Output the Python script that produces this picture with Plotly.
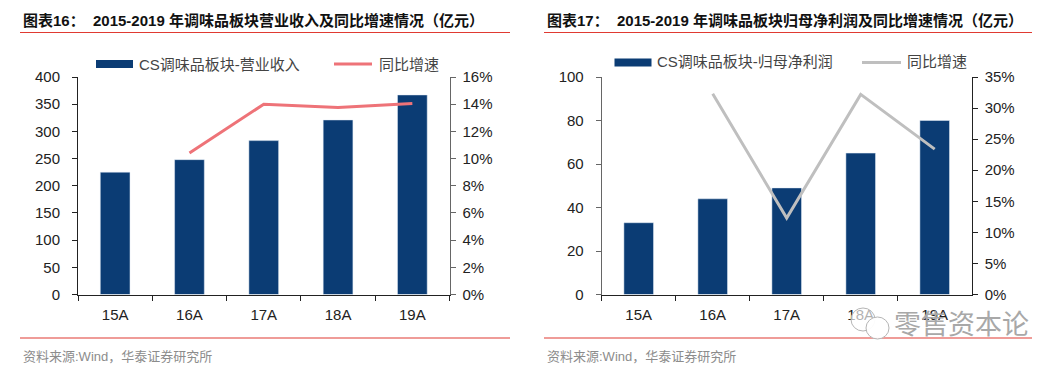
import plotly.graph_objects as go

W, H = 1062, 372
categories = ["15A", "16A", "17A", "18A", "19A"]
revenue = [225, 248, 283, 321, 367]
revenue_growth = [None, 10.4, 14.0, 13.75, 14.05]
profit = [33, 44, 49, 65, 80]
profit_growth = [None, 32.3, 12.3, 32.2, 23.4]
left_ticks = [0, 50, 100, 150, 200, 250, 300, 350, 400]
left_pct_ticks = [0, 2, 4, 6, 8, 10, 12, 14, 16]
right_ticks = [0, 20, 40, 60, 80, 100]
right_pct_ticks = [0, 5, 10, 15, 20, 25, 30, 35]

NAVY = "#0b3c74"
CORAL = "#ee7378"
GREY = "#bfbfbf"
RED = "#e03a32"
FONT = "Liberation Sans, Noto Sans CJK SC, sans-serif"
TXT = "#222222"
DARK = "#222222"
MID = "#666666"


def px(x):
    return x / W


def py(y):
    return 1 - y / H


fig = go.Figure()
fig.add_bar(x=categories, y=revenue, marker_color=NAVY, width=0.4, xaxis="x", yaxis="y", showlegend=False)
fig.add_scatter(x=categories, y=revenue_growth, mode="lines", line=dict(color=CORAL, width=3), xaxis="x", yaxis="y2", showlegend=False)
fig.add_bar(x=categories, y=profit, marker_color=NAVY, width=0.4, xaxis="x2", yaxis="y3", showlegend=False)
fig.add_scatter(x=categories, y=profit_growth, mode="lines", line=dict(color=GREY, width=3), xaxis="x2", yaxis="y4", showlegend=False)


def xax(x0, x1, anchor):
    return dict(domain=[px(x0), px(x1)], anchor=anchor, tickson="boundaries", ticks="outside", ticklen=5,
                tickcolor=DARK, showline=True, linecolor=DARK, linewidth=1, showgrid=False, automargin=False,
                tickfont=dict(family=FONT, size=15, color=TXT), ticklabelstandoff=6, zeroline=False)


def yax(vals, rng, fmt="", side="left", color=DARK, standoff=9, **kw):
    return dict(domain=[py(294.5), py(77)], range=rng, tickvals=vals, ticktext=[f"{v}{fmt}" for v in vals],
                side=side, ticks="outside", ticklen=5, tickcolor=color, showline=True, linecolor=color, linewidth=1,
                showgrid=False, zeroline=False, automargin=False, ticklabelstandoff=standoff,
                tickfont=dict(family=FONT, size=15, color=TXT), **kw)


fig.update_layout(
    width=W, height=H, autosize=False, margin=dict(l=0, r=0, t=0, b=0, pad=0, autoexpand=False),
    plot_bgcolor="white", paper_bgcolor="white",
    xaxis=xax(78, 449.5, "y"),
    yaxis=yax(left_ticks, [0, 400]),
    yaxis2=yax(left_pct_ticks, [0, 16], "%", "right", MID, 4, overlaying="y", anchor="x"),
    xaxis2=xax(601.7, 971.7, "y3"),
    yaxis3=yax(right_ticks, [0, 100], "", "left", MID, 9, anchor="x2"),
    yaxis4=yax(right_pct_ticks, [0, 35], "%", "right", DARK, 4, overlaying="y3", anchor="x2"),
    showlegend=False,
    bargap=0.6,
)

shapes = []


def hline(x0, x1, y, color=RED, width=1.2):
    shapes.append(dict(type="line", xref="paper", yref="paper", x0=px(x0), x1=px(x1), y0=py(y), y1=py(y),
                       line=dict(color=color, width=width)))


def swatch(x0, x1, y, color):
    shapes.append(dict(type="rect", xref="paper", yref="paper", x0=px(x0), x1=px(x1), y0=py(y - 4), y1=py(y + 4),
                       fillcolor=color, line_width=0))


def bubble(x0, x1, y0, y1, fill):
    shapes.append(dict(type="circle", xref="paper", yref="paper", x0=px(x0), x1=px(x1), y0=py(y1), y1=py(y0),
                       fillcolor=fill, line=dict(color="#b5b5b5", width=1)))


for a, b in ((20, 510), (544, 1032)):
    hline(a, b, 32.5)
    hline(a, b, 338)
swatch(96, 133, 64, NAVY)
hline(334, 372, 64, CORAL, 3)
swatch(614.5, 651.5, 62.5, NAVY)
hline(862, 901, 62.5, GREY, 3)

# watermark logo: two overlapping chat bubbles
bubble(851, 875, 308, 331, "rgba(255,255,255,0.65)")
bubble(866, 889, 317, 339, "rgba(255,255,255,0.95)")

ann = []


def text(x, y, s, size=14, color=TXT, bold=False, anchor="left"):
    ann.append(dict(xref="paper", yref="paper", x=px(x), y=py(y), text=f"<b>{s}</b>" if bold else s, showarrow=False,
                    xanchor=anchor, yanchor="middle", font=dict(family=FONT, size=size, color=color)))


text(21, 21, "图表16：", 15, "#111", True)
text(91, 21, "2015-2019 年调味品板块营业收入及同比增速情况（亿元）", 15, "#111", True)
text(545, 21, "图表17：", 15, "#111", True)
text(615, 21, "2015-2019 年调味品板块归母净利润及同比增速情况（亿元）", 15, "#111", True)
text(137, 64, "CS调味品板块-营业收入", 15, "#444")
text(377, 64, "同比增速", 15, "#444")
text(655, 62, "CS调味品板块-归母净利润", 15, "#444")
text(905, 62, "同比增速", 15, "#444")
text(21, 356, "资料来源:Wind，华泰证券研究所", 13, "#8c8c8c")
text(545, 356, "资料来源:Wind，华泰证券研究所", 13, "#8c8c8c")
text(892, 325, "零售资本论", 27, "#a8a8a8")
fig.update_layout(shapes=shapes, annotations=ann)
fig.write_html("out.html", post_script="document.body.style.margin='0';", config={"displayModeBar": False})
